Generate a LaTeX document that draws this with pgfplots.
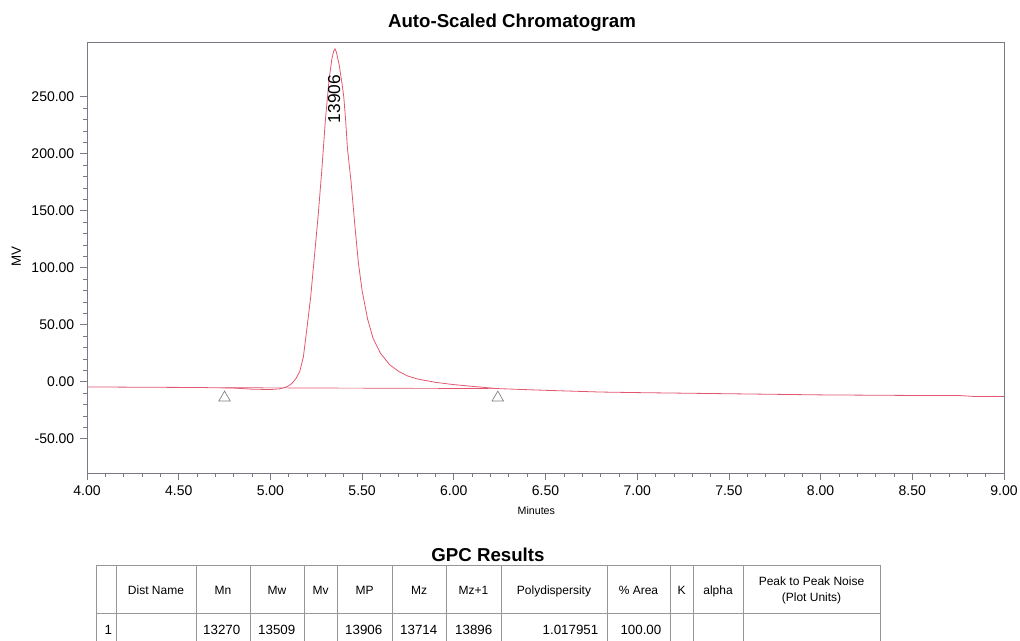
\documentclass[border=0pt]{standalone}
\usepackage{fontspec}
\setmainfont{Liberation Sans}
\usepackage{pgfplots}
\pgfplotsset{compat=1.18}
\definecolor{curve}{RGB}{226,86,110}
\definecolor{axisgray}{RGB}{120,122,135}
\definecolor{tablegray}{RGB}{150,150,150}

\begin{document}
\begin{tikzpicture}
\useasboundingbox (0,0) rectangle (765pt,480.75pt);
\begin{axis}[
  at={(65.25pt,126pt)}, anchor=south west,
  scale only axis, width=687.75pt, height=323.25pt,
  xmin=4, xmax=9, ymin=-80, ymax=298,
  xtick={4,4.5,5,5.5,6,6.5,7,7.5,8,8.5,9},
  ytick={-50,0,50,100,150,200,250},
  minor x tick num=4, minor y tick num=4,
  tick align=outside, xtick pos=bottom, ytick pos=left,
  major tick length=5pt, minor tick length=3pt,
  tick style={axisgray, line width=0.5pt},
  axis line style={axisgray, line width=0.6pt},
  ticklabel style={font=\fontsize{10.5}{12}\selectfont},
  xticklabel style={yshift=-1pt},
  yticklabel style={xshift=-1pt},
  /pgf/number format/.cd, fixed, fixed zerofill, precision=2, assume math mode=true, 1000 sep={},
  /pgfplots/.cd,
  xlabel={Minutes}, ylabel={MV},
  xlabel style={font=\fontsize{8}{10}\selectfont, at={(axis description cs:0.49,0)}, anchor=center, yshift=-28pt},
  ylabel style={font=\fontsize{10}{12}\selectfont, at={(axis description cs:0,0.503)}, anchor=center, yshift=53pt},
]
\addplot[curve, line width=0.6pt] coordinates {
(4.00,-4.5)(4.30,-4.8)(4.60,-5.0)(4.80,-5.5)(4.90,-6.5)(5.00,-6.8)(5.05,-6.2)
(5.08,-5)(5.10,-3.5)(5.12,-1)(5.14,3)(5.16,9)(5.18,22)(5.20,48)(5.22,75)
(5.24,110)(5.26,145)(5.28,185)(5.30,230)(5.32,265)(5.335,283)(5.345,290)
(5.352,292)(5.36,289)(5.375,278)(5.39,262)(5.40,250)(5.41,230)(5.42,205)
(5.44,175)(5.46,138)(5.48,104)(5.50,80)(5.53,55)(5.56,38)(5.60,25)(5.65,15)
(5.70,9)(5.75,5)(5.80,2.5)(5.90,-0.5)(6.00,-2.5)(6.10,-4)(6.24,-6)(6.50,-7.5)
(6.80,-9)(7.00,-9.5)(7.50,-10.5)(8.00,-11.5)(8.50,-12)(8.75,-12)(8.85,-13)(9.00,-13)
};
\addplot[curve, line width=0.5pt] coordinates {(4.75,-5.2)(6.24,-6)};
\addplot[only marks, mark=triangle, mark size=5pt, mark options={draw=gray, line width=0.5pt}] coordinates {(4.75,-14)(6.24,-14)};
\node[rotate=90, font=\fontsize{13}{15}\selectfont] at (axis cs:5.347,248) {13906};
\end{axis}

\begin{scope}[shift={(0,480.75pt)}, x=0.75pt, y=-0.75pt]
\node[font=\bfseries\fontsize{14}{16}\selectfont, anchor=base] at (512,28) {Auto-Scaled Chromatogram};
\node[font=\bfseries\fontsize{14}{16}\selectfont, anchor=base] at (488,562) {GPC Results};
\draw[tablegray, line width=0.6pt] (96,565) -- (880,565);
\draw[tablegray, line width=0.6pt] (96,613) -- (880,613);
\foreach \xx in {96,116,196,250,304,337,392,446,501,607,670,693,743,880}{
  \draw[tablegray, line width=0.6pt] (\xx,565) -- (\xx,641);
}
\begin{scope}[every node/.style={font=\fontsize{9}{10}\selectfont, anchor=base}]
\node at (156,595) {Dist Name};
\node at (223,595) {Mn};
\node at (277,595) {Mw};
\node at (320.5,595) {Mv};
\node at (364.5,595) {MP};
\node at (419,595) {Mz};
\node at (473.5,595) {Mz+1};
\node at (554,595) {Polydispersity};
\node at (638.5,595) {\% Area};
\node at (681.5,595) {K};
\node at (718,595) {alpha};
\node at (811.5,586) {Peak to Peak Noise};
\node at (811.5,602) {(Plot Units)};
\end{scope}
\begin{scope}[every node/.style={font=\fontsize{10}{11}\selectfont, anchor=base east}]
\node[anchor=base west] at (100,635) {1};
\node at (245,635) {13270};
\node at (300,635) {13509};
\node at (387,635) {13906};
\node at (442,635) {13714};
\node at (497,635) {13896};
\node at (603,635) {1.017951};
\node at (666,635) {100.00};
\end{scope}
\end{scope}
\end{tikzpicture}
\end{document}
